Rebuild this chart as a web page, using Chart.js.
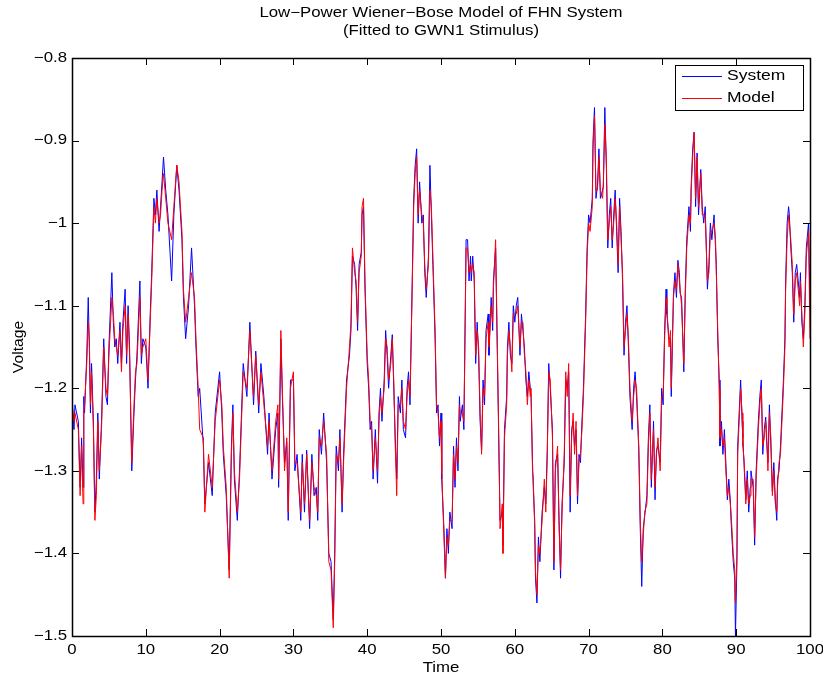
<!DOCTYPE html>
<html>
<head>
<meta charset="utf-8">
<script src="https://cdn.jsdelivr.net/npm/chart.js@4/dist/chart.umd.min.js"></script>
<style>
  html, body { margin: 0; padding: 0; background: #fff; }
  #wrap { width: 823px; height: 680px; position: relative; }
</style>
</head>
<body>
<div id="wrap"><canvas id="fhnChart" width="823" height="680"></canvas></div>
<script>
// sample times
var timeVals = [
  0.0, 0.27, 0.4, 0.86, 1.1, 1.3, 1.5, 1.6, 1.7, 2.0, 2.2, 2.35, 2.5, 2.65, 2.9, 3.1, 3.3, 3.5, 3.7, 4.0,
  4.3, 4.6, 4.8, 5.0, 5.4, 5.6, 5.8, 6.0, 6.2, 6.5, 6.7, 6.9, 7.2, 7.4, 7.6, 7.8, 8.1, 8.4, 8.6, 8.8,
  9.2, 9.4, 9.6, 10.0, 10.3, 10.6, 10.8, 11.1, 11.3, 11.5, 11.8, 12.0, 12.2, 12.4, 12.7, 13.0, 13.5, 13.8, 14.2, 14.5,
  14.9, 15.1, 15.4, 15.8, 16.2, 16.6, 16.8, 17.1, 17.3, 17.8, 18.0, 18.5, 19.0, 19.4, 20.0, 20.3, 20.5, 20.9, 21.3, 21.6,
  21.8, 22.0, 22.4, 22.7, 23.2, 23.7, 24.1, 24.6, 24.9, 25.3, 25.6, 26.0, 26.5, 26.7, 27.1, 27.6, 27.9, 28.0, 28.3, 28.5,
  28.8, 29.1, 29.3, 29.6, 30.0, 30.2, 30.5, 31.0, 31.2, 31.5, 31.8, 32.2, 32.5, 32.8, 33.1, 33.3, 33.5, 33.8, 34.1, 34.5,
  34.8, 35.1, 35.4, 35.6, 35.8, 36.1, 36.3, 36.6, 36.8, 37.2, 37.6, 37.8, 38.0, 38.3, 38.5, 38.7, 38.9, 39.2, 39.3, 39.5,
  39.7, 40.0, 40.2, 40.4, 40.6, 40.8, 41.1, 41.4, 41.6, 41.8, 42.0, 42.3, 42.5, 42.7, 42.9, 43.2, 43.4, 43.6, 43.8, 44.0,
  44.2, 44.5, 44.7, 44.9, 45.2, 45.4, 45.6, 45.8, 46.1, 46.3, 46.5, 46.7, 46.9, 47.1, 47.4, 47.6, 47.8, 48.0, 48.3, 48.5,
  48.7, 48.9, 49.2, 49.4, 49.6, 49.8, 50.0, 50.1, 50.4, 50.6, 50.8, 51.0, 51.2, 51.5, 51.7, 51.9, 52.1, 52.3, 52.5, 52.6,
  52.9, 53.1, 53.2, 53.4, 53.6, 53.8, 54.0, 54.1, 54.3, 54.5, 54.7, 54.9, 55.1, 55.3, 55.5, 55.7, 55.9, 56.1, 56.4, 56.5,
  56.8, 57.0, 57.1, 57.4, 57.6, 57.8, 58.0, 58.3, 58.4, 58.6, 58.9, 59.0, 59.2, 59.4, 59.6, 59.8, 60.0, 60.2, 60.4, 60.7,
  60.9, 61.1, 61.3, 61.5, 61.7, 61.9, 62.1, 62.2, 62.4, 62.5, 62.7, 62.8, 63.0, 63.2, 63.4, 63.7, 64.0, 64.2, 64.4, 64.6,
  64.8, 65.1, 65.3, 65.5, 65.8, 66.0, 66.2, 66.4, 66.7, 66.9, 67.1, 67.3, 67.5, 67.7, 67.9, 68.1, 68.3, 68.5, 68.7, 68.9,
  69.1, 69.3, 69.6, 69.8, 70.0, 70.2, 70.5, 70.6, 70.8, 71.0, 71.2, 71.4, 71.6, 71.9, 72.0, 72.2, 72.4, 72.6, 72.8, 73.0,
  73.2, 73.4, 73.6, 73.8, 74.0, 74.2, 74.4, 74.6, 74.8, 75.0, 75.2, 75.4, 75.6, 75.9, 76.1, 76.3, 76.5, 76.8, 77.0, 77.2,
  77.4, 77.6, 77.9, 78.1, 78.3, 78.5, 78.8, 79.0, 79.2, 79.4, 79.7, 79.9, 80.1, 80.3, 80.5, 80.6, 80.9, 81.1, 81.2, 81.5,
  81.7, 81.9, 82.1, 82.3, 82.4, 82.6, 82.9, 83.1, 83.3, 83.6, 83.8, 83.9, 84.1, 84.3, 84.5, 84.7, 84.9, 85.2, 85.4, 85.6,
  85.8, 86.1, 86.3, 86.5, 86.7, 87.0, 87.2, 87.3, 87.5, 87.7, 87.8, 88.0, 88.2, 88.4, 88.6, 88.8, 89.0, 89.2, 89.3, 89.6,
  89.8, 89.9, 90.1, 90.2, 90.4, 90.6, 90.8, 90.9, 91.1, 91.3, 91.5, 91.7, 91.9, 92.0, 92.3, 92.5, 92.7, 93.0, 93.2, 93.4,
  93.6, 93.8, 94.0, 94.1, 94.3, 94.5, 94.7, 94.9, 95.1, 95.3, 95.5, 95.6, 95.8, 96.0, 96.2, 96.4, 96.6, 96.7, 96.9, 97.1,
  97.2, 97.4, 97.6, 97.8, 98.0, 98.2, 98.4, 98.6, 98.7, 98.9, 99.1, 99.3, 99.5, 99.8, 100.0
];

// System output (blue)
var systemVals = [
  -1.21, -1.25, -1.22, -1.24, -1.32, -1.26, -1.32, -1.21, -1.23, -1.16, -1.09, -1.15, -1.23, -1.17, -1.24, -1.35, -1.31, -1.23, -1.31, -1.24,
  -1.14, -1.21, -1.22, -1.15, -1.06, -1.12, -1.15, -1.14, -1.17, -1.12, -1.17, -1.12, -1.08, -1.17, -1.10, -1.15, -1.30, -1.23, -1.19, -1.16,
  -1.07, -1.17, -1.14, -1.15, -1.20, -1.11, -1.06, -0.97, -0.99, -0.96, -1.01, -0.98, -0.95, -0.92, -0.96, -0.99, -1.07, -0.99, -0.93, -0.96,
  -1.02, -1.09, -1.14, -1.10, -1.03, -1.10, -1.15, -1.21, -1.20, -1.27, -1.34, -1.29, -1.33, -1.23, -1.18, -1.23, -1.28, -1.33, -1.42, -1.27,
  -1.22, -1.31, -1.36, -1.30, -1.17, -1.21, -1.12, -1.22, -1.155, -1.23, -1.17, -1.21, -1.28, -1.23, -1.31, -1.25, -1.23, -1.32, -1.14, -1.21,
  -1.29, -1.265, -1.36, -1.19, -1.19, -1.30, -1.28, -1.36, -1.28, -1.35, -1.275, -1.37, -1.28, -1.33, -1.32, -1.36, -1.25, -1.28, -1.23, -1.29,
  -1.40, -1.41, -1.48, -1.40, -1.27, -1.30, -1.25, -1.35, -1.28, -1.19, -1.16, -1.13, -1.04, -1.05, -1.08, -1.13, -1.05, -1.035, -0.99, -0.98,
  -1.08, -1.17, -1.20, -1.25, -1.24, -1.31, -1.25, -1.315, -1.23, -1.20, -1.24, -1.19, -1.13, -1.16, -1.20, -1.16, -1.135, -1.20, -1.26, -1.31,
  -1.21, -1.23, -1.19, -1.25, -1.26, -1.20, -1.18, -1.22, -1.07, -0.97, -0.93, -0.91, -1.00, -0.95, -1.00, -0.99, -1.06, -1.09, -1.04, -0.93,
  -0.99, -1.05, -1.14, -1.23, -1.22, -1.27, -1.23, -1.31, -1.37, -1.43, -1.37, -1.40, -1.35, -1.37, -1.27, -1.32, -1.26, -1.30, -1.21, -1.24,
  -1.22, -1.25, -1.17, -1.02, -1.02, -1.07, -1.04, -1.07, -1.04, -1.07, -1.17, -1.12, -1.16, -1.24, -1.275, -1.19, -1.22, -1.13, -1.11, -1.16,
  -1.09, -1.13, -1.07, -1.03, -1.14, -1.25, -1.36, -1.35, -1.39, -1.25, -1.21, -1.15, -1.12, -1.16, -1.17, -1.10, -1.12, -1.10, -1.09, -1.16,
  -1.11, -1.13, -1.15, -1.19, -1.21, -1.18, -1.20, -1.21, -1.29, -1.32, -1.36, -1.43, -1.46, -1.38, -1.41, -1.35, -1.32, -1.34, -1.275, -1.17,
  -1.20, -1.25, -1.42, -1.29, -1.28, -1.36, -1.43, -1.34, -1.29, -1.19, -1.20, -1.18, -1.35, -1.25, -1.24, -1.27, -1.25, -1.34, -1.28, -1.29,
  -1.24, -1.20, -1.11, -1.03, -0.99, -1.00, -0.97, -0.90, -0.86, -0.97, -0.955, -0.91, -0.97, -0.96, -0.955, -0.86, -0.93, -1.03, -0.99, -0.97,
  -1.03, -0.99, -0.96, -1.01, -1.06, -0.97, -1.01, -1.07, -1.16, -1.12, -1.10, -1.15, -1.21, -1.25, -1.20, -1.18, -1.21, -1.275, -1.37, -1.44,
  -1.37, -1.355, -1.33, -1.26, -1.22, -1.32, -1.24, -1.335, -1.275, -1.27, -1.29, -1.20, -1.22, -1.13, -1.08, -1.11, -1.14, -1.14, -1.21, -1.085,
  -1.06, -1.09, -1.045, -1.06, -1.085, -1.09, -1.18, -1.08, -1.02, -0.98, -1.01, -0.955, -0.91, -0.89, -0.98, -0.915, -0.99, -0.935, -0.98, -1.00,
  -0.98, -1.08, -1.05, -1.00, -1.02, -0.99, -1.03, -1.05, -1.14, -1.19, -1.27, -1.24, -1.28, -1.25, -1.29, -1.335, -1.31, -1.335, -1.36, -1.41,
  -1.43, -1.50, -1.41, -1.27, -1.23, -1.19, -1.24, -1.26, -1.30, -1.335, -1.30, -1.35, -1.32, -1.30, -1.32, -1.39, -1.30, -1.24, -1.21, -1.19,
  -1.28, -1.25, -1.235, -1.26, -1.29, -1.22, -1.27, -1.325, -1.29, -1.335, -1.36, -1.31, -1.30, -1.27, -1.23, -1.19, -1.14, -1.07, -1.00, -0.98,
  -0.99, -1.03, -1.06, -1.12, -1.06, -1.05, -1.07, -1.09, -1.06, -1.12, -1.14, -1.10, -1.03, -1.00, -1.10
];

// Wiener-Bose model output (red)
var modelVals = [
  -1.22, -1.24, -1.23, -1.25, -1.33, -1.27, -1.34, -1.23, -1.22, -1.17, -1.12, -1.14, -1.22, -1.18, -1.25, -1.36, -1.33, -1.24, -1.30, -1.25,
  -1.15, -1.20, -1.21, -1.16, -1.09, -1.11, -1.14, -1.15, -1.16, -1.13, -1.18, -1.13, -1.10, -1.16, -1.11, -1.16, -1.29, -1.22, -1.18, -1.17,
  -1.09, -1.16, -1.15, -1.14, -1.19, -1.12, -1.07, -0.98, -1.00, -0.97, -1.00, -0.99, -0.96, -0.94, -0.97, -1.00, -1.02, -0.98, -0.93, -0.95,
  -1.01, -1.08, -1.12, -1.09, -1.06, -1.09, -1.14, -1.20, -1.25, -1.26, -1.35, -1.28, -1.32, -1.24, -1.19, -1.22, -1.27, -1.32, -1.43, -1.28,
  -1.23, -1.30, -1.35, -1.31, -1.18, -1.20, -1.13, -1.21, -1.16, -1.22, -1.18, -1.22, -1.27, -1.24, -1.30, -1.24, -1.22, -1.31, -1.13, -1.20,
  -1.30, -1.26, -1.35, -1.20, -1.18, -1.29, -1.29, -1.35, -1.29, -1.34, -1.28, -1.36, -1.29, -1.32, -1.33, -1.35, -1.26, -1.27, -1.24, -1.28,
  -1.41, -1.42, -1.49, -1.41, -1.28, -1.29, -1.26, -1.34, -1.29, -1.20, -1.15, -1.12, -1.03, -1.06, -1.07, -1.12, -1.06, -1.04, -0.98, -0.97,
  -1.07, -1.16, -1.19, -1.24, -1.25, -1.30, -1.26, -1.30, -1.24, -1.21, -1.23, -1.20, -1.14, -1.15, -1.19, -1.17, -1.14, -1.19, -1.27, -1.33,
  -1.22, -1.22, -1.20, -1.24, -1.25, -1.21, -1.19, -1.21, -1.08, -0.98, -0.94, -0.92, -0.99, -0.96, -0.99, -1.00, -1.05, -1.08, -1.05, -0.96,
  -0.98, -1.04, -1.13, -1.22, -1.23, -1.26, -1.24, -1.30, -1.38, -1.43, -1.38, -1.39, -1.36, -1.36, -1.28, -1.31, -1.27, -1.29, -1.22, -1.23,
  -1.23, -1.24, -1.18, -1.03, -1.03, -1.06, -1.05, -1.06, -1.05, -1.06, -1.16, -1.13, -1.15, -1.23, -1.28, -1.20, -1.21, -1.14, -1.12, -1.15,
  -1.10, -1.12, -1.08, -1.02, -1.13, -1.24, -1.37, -1.34, -1.40, -1.26, -1.22, -1.16, -1.13, -1.15, -1.18, -1.11, -1.11, -1.11, -1.10, -1.15,
  -1.12, -1.12, -1.16, -1.18, -1.22, -1.19, -1.21, -1.20, -1.30, -1.31, -1.37, -1.42, -1.45, -1.39, -1.40, -1.36, -1.31, -1.35, -1.28, -1.18,
  -1.19, -1.26, -1.41, -1.30, -1.27, -1.37, -1.42, -1.35, -1.28, -1.18, -1.21, -1.17, -1.33, -1.26, -1.23, -1.28, -1.24, -1.33, -1.29, -1.28,
  -1.25, -1.21, -1.12, -1.04, -1.00, -1.01, -0.98, -0.91, -0.87, -0.96, -0.96, -0.92, -0.96, -0.97, -0.95, -0.88, -0.92, -1.02, -1.00, -0.98,
  -1.02, -1.00, -0.97, -1.00, -1.05, -0.98, -1.02, -1.06, -1.15, -1.13, -1.11, -1.14, -1.20, -1.24, -1.21, -1.19, -1.20, -1.27, -1.36, -1.41,
  -1.38, -1.35, -1.34, -1.27, -1.23, -1.31, -1.25, -1.32, -1.28, -1.26, -1.30, -1.21, -1.21, -1.14, -1.09, -1.10, -1.15, -1.13, -1.20, -1.09,
  -1.07, -1.08, -1.05, -1.07, -1.08, -1.10, -1.17, -1.09, -1.03, -0.99, -1.00, -0.96, -0.92, -0.89, -0.97, -0.92, -0.98, -0.94, -0.99, -0.99,
  -0.99, -1.07, -1.06, -1.01, -1.01, -1.00, -1.02, -1.06, -1.13, -1.20, -1.26, -1.25, -1.27, -1.26, -1.30, -1.33, -1.32, -1.34, -1.35, -1.40,
  -1.42, -1.46, -1.40, -1.28, -1.24, -1.20, -1.23, -1.27, -1.29, -1.34, -1.31, -1.34, -1.33, -1.31, -1.31, -1.38, -1.31, -1.25, -1.22, -1.20,
  -1.27, -1.26, -1.24, -1.25, -1.30, -1.23, -1.26, -1.33, -1.30, -1.34, -1.35, -1.32, -1.29, -1.28, -1.24, -1.20, -1.15, -1.08, -1.02, -0.99,
  -1.00, -1.02, -1.05, -1.11, -1.07, -1.06, -1.08, -1.10, -1.07, -1.11, -1.15, -1.11, -1.04, -1.01, -1.14
];

var seriesNames = ['System', 'Model'];
var seriesColors = ['#0000ff', '#ff0000'];
var xTickVals = [0, 10, 20, 30, 40, 50, 60, 70, 80, 90, 100];
var yTickVals = [-1.5, -1.4, -1.3, -1.2, -1.1, -1, -0.9, -0.8];
var titleLines = ['Low\u2212Power Wiener\u2212Bose Model of FHN System', '(Fitted to GWN1 Stimulus)'];

var FONT = '"Liberation Sans", Arial, Helvetica, sans-serif';
var TXT_STRETCH = 1.2;   // matlab text comes out wide

function pairUp(xs, ys) {
  var out = [];
  for (var i = 0; i < xs.length; i++) out.push({x: xs[i], y: ys[i]});
  return out;
}

function fmtTick(v) {
  var s = String(Number(v.toFixed(1)));
  return s.replace('-', '\u2212');
}

function wideText(ctx, str, x, y, align, sx) {
  ctx.save();
  ctx.translate(x, y);
  ctx.scale(sx, 1);
  ctx.textAlign = align;
  ctx.fillText(str, 0, 0);
  ctx.restore();
}

// frame, inward ticks, labels, titles and legend, matlab style
var matlabBox = {
  id: 'matlabBox',
  afterDraw: function(chart) {
    var ctx = chart.ctx;
    var a = chart.chartArea;
    var xs = chart.scales.x, ys = chart.scales.y;
    var tl = 7;
    ctx.save();
    ctx.strokeStyle = '#000';
    ctx.lineWidth = 1;
    ctx.beginPath();
    xTickVals.forEach(function(v) {
      var px = Math.round(xs.getPixelForValue(v)) + 0.5;
      ctx.moveTo(px, a.bottom); ctx.lineTo(px, a.bottom - tl);
      ctx.moveTo(px, a.top); ctx.lineTo(px, a.top + tl);
    });
    yTickVals.forEach(function(v) {
      var py = Math.round(ys.getPixelForValue(v)) + 0.5;
      ctx.moveTo(a.left, py); ctx.lineTo(a.left + tl, py);
      ctx.moveTo(a.right, py); ctx.lineTo(a.right - tl, py);
    });
    ctx.stroke();
    ctx.lineWidth = 1.5;
    ctx.strokeRect(Math.round(a.left) + 0.5, Math.round(a.top) + 0.5,
                   Math.round(a.right - a.left), Math.round(a.bottom - a.top));

    ctx.fillStyle = '#000';
    ctx.font = '14px ' + FONT;
    ctx.textBaseline = 'middle';

    // tick labels
    xTickVals.forEach(function(v) {
      wideText(ctx, fmtTick(v), xs.getPixelForValue(v), a.bottom + 14, 'center', TXT_STRETCH);
    });
    yTickVals.forEach(function(v) {
      wideText(ctx, fmtTick(v), a.left - 5, ys.getPixelForValue(v), 'right', TXT_STRETCH);
    });

    // title
    var cx = (a.left + a.right) / 2;
    wideText(ctx, titleLines[0], cx, 13, 'center', TXT_STRETCH);
    wideText(ctx, titleLines[1], cx, 31, 'center', TXT_STRETCH);

    // axis titles
    wideText(ctx, 'Time', cx, 668, 'center', TXT_STRETCH);
    ctx.save();
    ctx.translate(19, (a.top + a.bottom) / 2);
    ctx.rotate(-Math.PI / 2);
    wideText(ctx, 'Voltage', 0, 0, 'center', 1.12);
    ctx.restore();

    // legend
    var lx = 675, ly = 65, lw = 128, lh = 45;
    ctx.fillStyle = '#fff';
    ctx.fillRect(lx, ly, lw, lh);
    ctx.lineWidth = 1;
    ctx.strokeStyle = '#000';
    ctx.strokeRect(lx + 0.5, ly + 0.5, lw, lh);
    chart.data.datasets.slice().sort(function(p, q) { return p.legendPos - q.legendPos; }).forEach(function(ds, i) {
      var yy = ly + 11 + i * 22 + 0.5;
      ctx.strokeStyle = ds.borderColor;
      ctx.beginPath();
      ctx.moveTo(lx + 7, yy); ctx.lineTo(lx + 47, yy);
      ctx.stroke();
      ctx.fillStyle = '#000';
      wideText(ctx, ds.label, lx + 52, yy, 'left', 1.25);
    });
    ctx.restore();
  }
};

var ctx2 = document.getElementById('fhnChart').getContext('2d');
var chart = new Chart(ctx2, {
  type: 'line',
  data: {
    datasets: [
      {
        label: seriesNames[0],
        data: pairUp(timeVals, systemVals),
        borderColor: seriesColors[0],
        borderWidth: 1,
        pointRadius: 0,
        tension: 0,
        fill: false,
        order: 2,
        legendPos: 0
      },
      {
        label: seriesNames[1],
        data: pairUp(timeVals, modelVals),
        borderColor: seriesColors[1],
        borderWidth: 1,
        pointRadius: 0,
        tension: 0,
        fill: false,
        order: 1,
        legendPos: 1
      }
    ]
  },
  options: {
    responsive: false,
    animation: false,
    events: [],
    layout: { padding: { top: 58, right: 13, left: 0, bottom: 0 } },
    plugins: {
      legend: { display: false },
      title: { display: false },
      tooltip: { enabled: false }
    },
    scales: {
      x: {
        type: 'linear',
        min: 0, max: 100,
        grid: { display: false, drawTicks: false },
        border: { display: false },
        afterBuildTicks: function(s) { s.ticks = xTickVals.map(function(v) { return {value: v}; }); },
        afterFit: function(s) { s.height = 44; },
        ticks: { display: false }
      },
      y: {
        type: 'linear',
        min: -1.5, max: -0.8,
        grid: { display: false, drawTicks: false },
        border: { display: false },
        afterBuildTicks: function(s) { s.ticks = yTickVals.map(function(v) { return {value: v}; }); },
        afterFit: function(s) { s.width = 72; },
        ticks: { display: false }
      }
    }
  },
  plugins: [matlabBox]
});
</script>
</body>
</html>
